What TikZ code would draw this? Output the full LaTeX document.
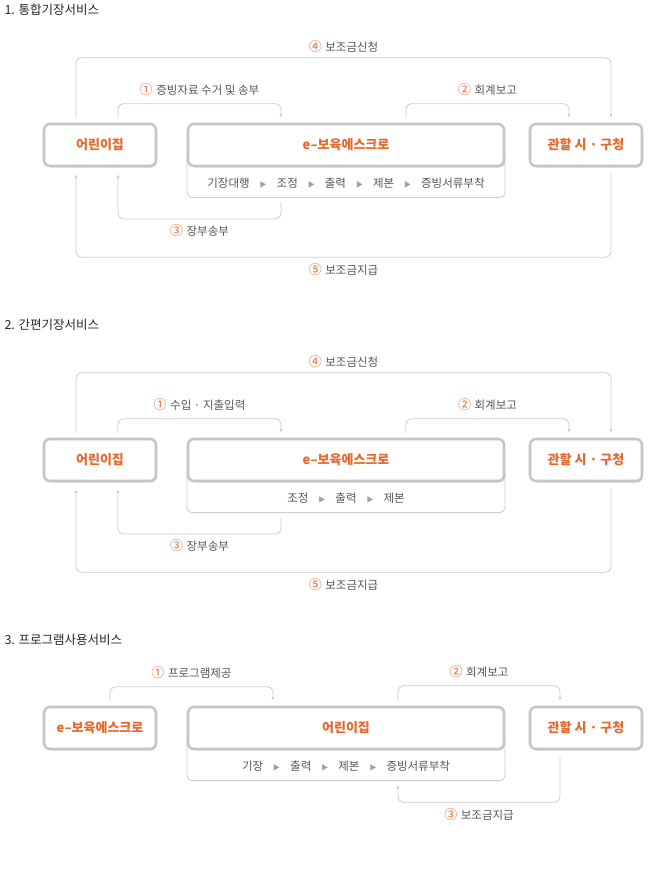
\documentclass[tikz,border=0pt]{standalone}
\usepackage{fontspec}
\setmainfont{Noto Sans CJK KR}
\usepackage{tikz}
\usetikzlibrary{arrows.meta,calc,positioning,shadows}
\definecolor{vurguTuruncu}{HTML}{E5672A}
\definecolor{yaziGri}{HTML}{555555}
\definecolor{cizgiGri}{HTML}{CDCDCD}
\definecolor{kutuGri}{HTML}{C6C6C6}
\definecolor{okGri}{HTML}{A0A0A0}
\newcommand{\nr}[1]{\textcolor{vurguTuruncu}{\fontsize{13}{12}\selectfont #1}\hspace{1pt}}
\newcommand{\ileri}{\hspace{10pt}{\fontsize{7}{7}\selectfont\color{okGri}▶}\hspace{10pt}}

\begin{document}
\begin{tikzpicture}[x=1pt,y=-1pt,
  box/.style={draw=kutuGri,line width=2.6pt,rounded corners=6pt,fill=white,
    drop shadow={shadow xshift=0.8pt,shadow yshift=-1.3pt,fill=black!45,opacity=0.55},
    minimum height=42pt,text=vurguTuruncu,font=\fontsize{13}{13}\selectfont\bfseries},
  subbox/.style={draw=cizgiGri,line width=0.8pt,rounded corners=5pt,minimum width=318pt,
    minimum height=48pt,anchor=south},
  flow/.style={cizgiGri,line width=0.8pt,rounded corners=6pt},
  tip/.style={-{Latex[length=3.5pt,width=3pt]}},
  lbl/.style={text=yaziGri,font=\fontsize{11.5}{11}\selectfont},
  title/.style={anchor=west,text=black!85,font=\fontsize{12.5}{12}\selectfont}]
\useasboundingbox (0,0) rectangle (660,875);

\node[title] (t1) at (1,10) {1. 통합기장서비스};
\node[subbox] (s1sub) at (346,198) {};
\node[lbl] (s1steps) at (346,183) {기장대행\ileri 조정\ileri 출력\ileri 제본\ileri 증빙서류부착};
\node[box,minimum width=112pt] (s1day) at (100,145) {어린이집};
\node[box,minimum width=316pt] (s1esc) at (346,145) {e–보육에스크로};
\node[box,minimum width=112pt] (s1gov) at (586,145) {관할 시 · 구청};
\draw[flow,tip] ([xshift=-24pt,yshift=5pt]s1day.north) -- ++(0,-60)
  -| node[lbl,pos=.25,above=1pt] (s1n4) {\nr{④} 보조금신청} ([xshift=25pt,yshift=5pt]s1gov.north);
\draw[flow,tip] ([xshift=18pt,yshift=5pt]s1day.north) -- ++(0,-14)
  -| node[lbl,pos=.25,above=4pt] (s1n1) {\nr{①} 증빙자료 수거 및 송부} ([xshift=-65pt,yshift=5pt]s1esc.north);
\draw[flow,tip] ([xshift=60pt,yshift=5pt]s1esc.north) -- ++(0,-14)
  -| node[lbl,pos=.25,above=4pt] (s1n2) {\nr{②} 회계보고} ([xshift=-17pt,yshift=5pt]s1gov.north);
\draw[flow,tip] ([xshift=-65pt,yshift=-4pt]s1sub.south) -- ++(0,17)
  -| node[lbl,pos=.25,below=2pt] (s1n3) {\nr{③} 장부송부} ([xshift=18pt,yshift=-7pt]s1day.south);
\draw[flow,tip] ([xshift=25pt,yshift=-6pt]s1gov.south) -- ++(0,84)
  -| node[lbl,pos=.25,below=2pt] (s1n5) {\nr{⑤} 보조금지급} ([xshift=-24pt,yshift=-7pt]s1day.south);

\node[title] (t2) at (1,325) {2. 간편기장서비스};
\node[subbox] (s2sub) at (346,513) {};
\node[lbl] (s2steps) at (346,498) {조정\ileri 출력\ileri 제본};
\node[box,minimum width=112pt] (s2day) at (100,460) {어린이집};
\node[box,minimum width=316pt] (s2esc) at (346,460) {e–보육에스크로};
\node[box,minimum width=112pt] (s2gov) at (586,460) {관할 시 · 구청};
\draw[flow,tip] ([xshift=-24pt,yshift=5pt]s2day.north) -- ++(0,-60)
  -| node[lbl,pos=.25,above=1pt] (s2n4) {\nr{④} 보조금신청} ([xshift=25pt,yshift=5pt]s2gov.north);
\draw[flow,tip] ([xshift=18pt,yshift=5pt]s2day.north) -- ++(0,-14)
  -| node[lbl,pos=.25,above=4pt] (s2n1) {\nr{①} 수입 · 지출입력} ([xshift=-65pt,yshift=5pt]s2esc.north);
\draw[flow,tip] ([xshift=60pt,yshift=5pt]s2esc.north) -- ++(0,-14)
  -| node[lbl,pos=.25,above=4pt] (s2n2) {\nr{②} 회계보고} ([xshift=-17pt,yshift=5pt]s2gov.north);
\draw[flow,tip] ([xshift=-65pt,yshift=-4pt]s2sub.south) -- ++(0,17)
  -| node[lbl,pos=.25,below=2pt] (s2n3) {\nr{③} 장부송부} ([xshift=18pt,yshift=-7pt]s2day.south);
\draw[flow,tip] ([xshift=25pt,yshift=-6pt]s2gov.south) -- ++(0,84)
  -| node[lbl,pos=.25,below=2pt] (s2n5) {\nr{⑤} 보조금지급} ([xshift=-24pt,yshift=-7pt]s2day.south);

\node[title] (t3) at (1,640) {3. 프로그램사용서비스};
\node[subbox] (s3sub) at (346,781) {};
\node[lbl] (s3steps) at (346,766) {기장\ileri 출력\ileri 제본\ileri 증빙서류부착};
\node[box,minimum width=112pt] (s3esc) at (100,728) {e–보육에스크로};
\node[box,minimum width=316pt] (s3day) at (346,728) {어린이집};
\node[box,minimum width=112pt] (s3gov) at (586,728) {관할 시 · 구청};
\draw[flow,tip] ([xshift=10pt,yshift=5pt]s3esc.north) -- ++(0,-14)
  -| node[lbl,pos=.25,above=4pt] (s3n1) {\nr{①} 프로그램제공} ([xshift=-73pt,yshift=5pt]s3day.north);
\draw[flow,tip] ([xshift=52pt,yshift=5pt]s3day.north) -- ++(0,-15)
  -| node[lbl,pos=.25,above=4pt] (s3n2) {\nr{②} 회계보고} ([xshift=-26pt,yshift=5pt]s3gov.north);
\draw[flow,tip] ([xshift=-26pt,yshift=-6pt]s3gov.south) -- ++(0,46)
  -| node[lbl,pos=.25,below=2pt] (s3n3) {\nr{③} 보조금지급} ([xshift=52pt,yshift=-4pt]s3sub.south);
\end{tikzpicture}
\end{document}
